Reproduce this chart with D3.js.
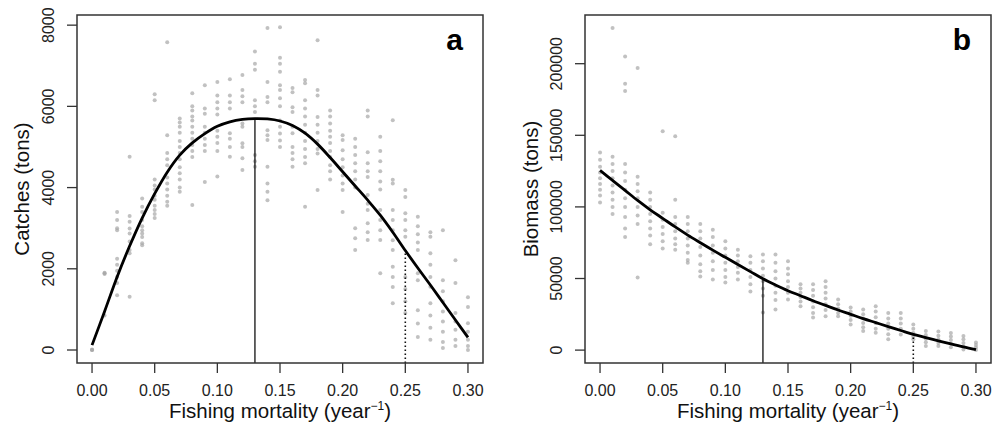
<!DOCTYPE html>
<html>
<head>
<meta charset="utf-8">
<script src="https://cdn.jsdelivr.net/npm/d3@7"></script>
<style>
  body { margin: 0; background: #fff; }
  svg { font-family: "Liberation Sans", Arial, Helvetica, sans-serif; }
  .tick-label { font-size: 16px; fill: #222; }
  .axis-title { font-size: 20.5px; fill: #111; }
  .panel-tag { font-size: 30px; font-weight: bold; fill: #000; }
</style>
</head>
<body>
<svg width="993" height="424"></svg>
<script>
// fishing mortality grid (year^-1)
var fGrid = d3.range(31).map(function(i) { return +(i * 0.01).toFixed(2); });
var xTicks = [0, 0.05, 0.10, 0.15, 0.20, 0.25, 0.30];

// panel a: catches (tons)
var catchTicks = [0, 2000, 4000, 6000, 8000];
var catchCurve = [120, 950, 1800, 2560, 3250, 3850, 4380, 4800, 5100, 5330, 5510,
  5620, 5680, 5700, 5690, 5640, 5530, 5340, 5070, 4740, 4390, 4040, 3690, 3320,
  2900, 2450, 2020, 1600, 1170, 740, 310];
var catchPoints = [
  [0, 0, 10],
  [1890, 1900, 1870, 850],
  [3400, 3200, 3000, 2950, 2250, 2100, 1950, 1800, 1650, 1350],
  [4760, 3300, 3160, 2990, 2870, 2670, 2460, 2380, 1310],
  [3730, 3530, 3400, 3200, 3050, 2950, 2870, 2780, 2630, 2580],
  [6300, 6150, 4200, 4050, 3950, 3800, 3700, 3550, 3450, 3350, 3250],
  [7580, 5290, 4850, 4700, 4550, 4250, 4100, 3950, 3800, 3650, 3550],
  [5700, 5600, 5500, 5350, 5150, 5000, 4850, 4700, 4500, 4350, 4200, 4000, 3900],
  [6320, 6000, 5900, 5750, 5650, 5500, 5350, 5200, 5050, 4900, 4750, 3570],
  [6520, 5950, 5820, 5500, 5350, 5200, 5050, 4900, 4140],
  [6600, 6270, 6100, 5950, 5800, 5400, 5250, 5100, 4900, 4270],
  [6670, 6270, 6100, 5950, 5340, 5200, 5000, 4760],
  [6770, 6400, 6250, 6100, 5580, 5500, 5090, 5000, 4720, 4430],
  [7350, 7050, 6900, 6150, 6000, 5860, 4800, 4650, 4510],
  [7930, 6600, 6230, 6100, 5410, 5290, 5170, 4510, 4100, 3900, 3690],
  [7950, 7200, 7050, 6850, 6520, 6400, 6200, 6000, 5650, 5500, 5330, 5160, 5000],
  [6450, 6350, 5980, 5860, 5500, 5340, 5000, 4850, 4700, 4510],
  [6650, 6570, 6150, 5950, 5750, 5550, 5350, 5150, 4950, 4750, 4600, 3530],
  [7630, 6400, 6270, 5740, 5550, 5350, 5150, 4950, 4840, 3940],
  [5900, 5750, 5580, 5400, 5250, 5100, 4900, 4750, 4550, 4400, 4200],
  [5290, 5170, 4920, 4700, 4500, 4300, 4100, 3940, 3400],
  [5200, 5000, 4800, 4600, 4400, 4200, 4000, 3000, 2750, 2460],
  [5900, 5750, 4870, 4600, 4400, 4260, 3820, 3600, 3450, 3120, 2900, 2710],
  [5250, 4900, 4650, 4400, 4150, 3950, 3450, 3200, 2950, 2710, 1890],
  [5660, 4190, 4100, 3450, 3200, 2950, 2700, 2460, 2050, 1800, 1550, 1150],
  [3940, 3770, 3370, 3200, 2950, 2790, 1800, 1500, 1200, 910],
  [3280, 3050, 2850, 2650, 2460, 1890, 1720, 980, 650, 320],
  [2900, 2790, 2380, 2100, 1800, 1560, 1150, 850, 550, 250],
  [2950, 1720, 1450, 1200, 950, 700, 450, 200, 50],
  [2210, 1650, 910, 700, 500, 250, 100],
  [1300, 1060, 660, 450, 250, 100, 0]
];

// panel b: biomass (tons)
var biomassTicks = [0, 50000, 100000, 150000, 200000];
var biomassCurve = [125500, 118500, 111500, 104500, 98000, 92000, 86000, 80300,
  75000, 69800, 64800, 59800, 54800, 49800, 45500, 41500, 38000, 34500, 31200,
  28000, 25000, 22000, 19200, 16400, 13700, 11000, 8700, 6500, 4300, 2200, 300];
var biomassPoints = [
  [138000, 133000, 128000, 124000, 120000, 116000, 112000, 108000, 103000],
  [225000, 135000, 130000, 125000, 120000, 115000, 110000, 105000, 100000, 95000],
  [205000, 186000, 181000, 130000, 124000, 118000, 112000, 106000, 100000, 93000, 85000, 79000],
  [197000, 121000, 116000, 111000, 106000, 100000, 94000, 88000, 50700],
  [110000, 105000, 100000, 95000, 90000, 85000, 80000, 74000],
  [152800, 96000, 91000, 86000, 81000, 76000, 71000],
  [149300, 105000, 93000, 88000, 83000, 78000, 74000, 70000],
  [93000, 88000, 83000, 78000, 73000, 68000, 63000, 61000],
  [88000, 83000, 78000, 72000, 66000, 60000, 55000, 51400],
  [84000, 79000, 73000, 68000, 62000, 56000, 49300],
  [76000, 71000, 66000, 61000, 56000, 51000, 47200],
  [70000, 66000, 62000, 58000, 54000, 49300],
  [65500, 61000, 56000, 51000, 46000, 41000],
  [66800, 62000, 57000, 52000, 48000, 43000, 38000, 26200],
  [66800, 61000, 55000, 50000, 45000, 40000, 35000, 28400],
  [62000, 57000, 53000, 48000, 44000, 40000, 35400],
  [46000, 43000, 40000, 37000, 34000, 30700],
  [46000, 42000, 38000, 34000, 30000, 26000, 22800],
  [48000, 44000, 40000, 36000, 32000, 28000, 23700],
  [35400, 32000, 29000, 26000, 23700],
  [29800, 27000, 24000, 21000, 17900],
  [28400, 25000, 22000, 19000, 16000, 13300],
  [30700, 27000, 23000, 19000, 15000, 12100],
  [26000, 22000, 18500, 15000, 11000, 7500],
  [26000, 22000, 18500, 15000, 10900],
  [17900, 15000, 12000, 9500, 7500],
  [13300, 10500, 8000, 5500, 2800],
  [13000, 10000, 7500, 5000, 2800],
  [12000, 9500, 7000, 4500, 2000],
  [9800, 7500, 5000, 2500, 500],
  [5400, 3500, 1800, 0]
];

var fMsy = 0.13, fHigh = 0.25;

var svg = d3.select("svg");

function drawPanel(opt) {
  var x = d3.scaleLinear().domain([-0.012, 0.312]).range([opt.left, opt.right]);
  var y = d3.scaleLinear().domain(opt.yDomain).range([363, 15]);
  var g = svg.append("g");

  // scatter of simulated values
  var pts = [];
  opt.points.forEach(function(col, i) {
    col.forEach(function(v) { pts.push([fGrid[i], v]); });
  });
  g.append("g").selectAll("circle")
    .data(pts)
    .enter().append("circle")
      .attr("cx", function(d) { return x(d[0]); })
      .attr("cy", function(d) { return y(d[1]); })
      .attr("r", 2)
      .attr("fill", "#a6a6a6")
      .attr("fill-opacity", 0.7);

  // vertical reference lines down to the frame
  var vAt = function(f) { return opt.curve[fGrid.indexOf(f)]; };
  g.append("line")
    .attr("x1", x(fMsy)).attr("x2", x(fMsy))
    .attr("y1", y.range()[0]).attr("y2", y(vAt(fMsy)))
    .attr("stroke", "#111").attr("stroke-width", 1.3);
  g.append("line")
    .attr("x1", x(fHigh)).attr("x2", x(fHigh))
    .attr("y1", y.range()[0]).attr("y2", y(vAt(fHigh)))
    .attr("stroke", "#111").attr("stroke-width", 1.6)
    .attr("stroke-dasharray", "1.6,2.4");

  // fitted curve
  var line = d3.line()
    .x(function(d, i) { return x(fGrid[i]); })
    .y(function(d) { return y(d); })
    .curve(d3.curveCatmullRom);
  g.append("path")
    .datum(opt.curve)
    .attr("d", line)
    .attr("fill", "none")
    .attr("stroke", "#000")
    .attr("stroke-width", 2.8);

  // frame
  g.append("rect")
    .attr("x", opt.left).attr("y", 15)
    .attr("width", opt.right - opt.left).attr("height", 348)
    .attr("fill", "none").attr("stroke", "#333").attr("stroke-width", 1.5);

  // x axis
  g.selectAll(".xt").data(xTicks).enter().append("line")
    .attr("x1", x).attr("x2", x)
    .attr("y1", 363).attr("y2", 373)
    .attr("stroke", "#333").attr("stroke-width", 1.3);
  g.selectAll(".xl").data(xTicks).enter().append("text")
    .attr("class", "tick-label")
    .attr("x", x).attr("y", 396)
    .attr("text-anchor", "middle")
    .text(d3.format(".2f"));

  // y axis
  g.selectAll(".yt").data(opt.ticks).enter().append("line")
    .attr("x1", opt.left - 10).attr("x2", opt.left)
    .attr("y1", y).attr("y2", y)
    .attr("stroke", "#333").attr("stroke-width", 1.3);
  g.selectAll(".yl").data(opt.ticks).enter().append("text")
    .attr("class", "tick-label")
    .attr("transform", function(d) { return "translate(" + (opt.left - 23) + "," + y(d) + ") rotate(-90)"; })
    .attr("text-anchor", "middle")
    .text(function(d) { return d; });

  // titles
  var xt = g.append("text")
    .attr("class", "axis-title")
    .attr("x", (opt.left + opt.right) / 2).attr("y", 418)
    .attr("text-anchor", "middle");
  xt.append("tspan").text("Fishing mortality (year");
  xt.append("tspan").attr("dy", -8).style("font-size", "12px").text("\u22121");
  xt.append("tspan").attr("dy", 8).text(")");

  g.append("text")
    .attr("class", "axis-title")
    .attr("transform", "translate(" + opt.titleX + "," + 189 + ") rotate(-90)")
    .attr("text-anchor", "middle")
    .text(opt.title);

  g.append("text")
    .attr("class", "panel-tag")
    .attr("x", opt.right - 20).attr("y", 50)
    .attr("text-anchor", "end")
    .text(opt.tag);
}

drawPanel({left: 77, right: 483, yDomain: [-320, 8250], ticks: catchTicks,
  points: catchPoints, curve: catchCurve, title: "Catches (tons)", titleX: 28.5, tag: "a"});
drawPanel({left: 585, right: 991, yDomain: [-9000, 234000], ticks: biomassTicks,
  points: biomassPoints, curve: biomassCurve, title: "Biomass (tons)", titleX: 538, tag: "b"});
</script>
</body>
</html>
